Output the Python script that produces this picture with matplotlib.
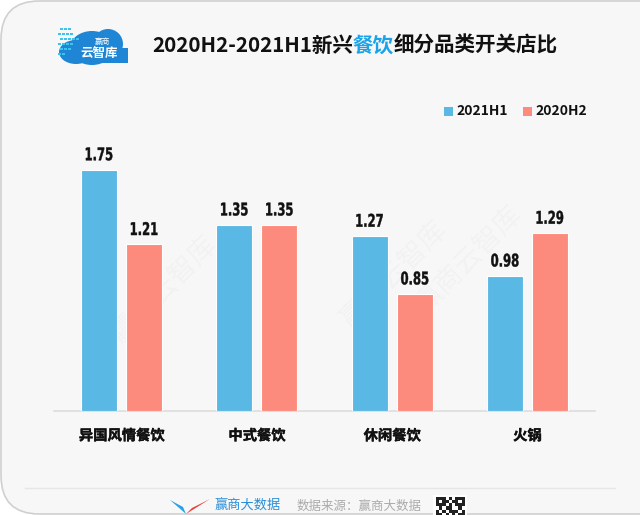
import matplotlib
matplotlib.use("Agg")
import matplotlib.pyplot as plt
import matplotlib.patheffects as pe
from matplotlib.patches import FancyBboxPatch, Rectangle, Polygon, Ellipse, PathPatch
from matplotlib.textpath import TextPath
from matplotlib.font_manager import FontProperties
from matplotlib.transforms import Affine2D
import numpy as np

categories = ["异国风情餐饮", "中式餐饮", "休闲餐饮", "火锅"]
series_names = ["2021H1", "2020H2"]
values_2021H1 = [1.75, 1.35, 1.27, 0.98]
values_2020H2 = [1.21, 1.35, 0.85, 1.29]
title_parts = ["2020H2-2021H1新兴", "餐饮", "细分品类开关店比"]

CJK = ["Noto Sans CJK SC", "DejaVu Sans"]
plt.rcParams['font.family'] = CJK

BLUE = "#5ab8e5"
RED = "#fc8b7d"
BG = "#f7f7f7"

W, H = 640, 515
DPI = 100
fig = plt.figure(figsize=(6.4, 5.15), dpi=DPI)
fig.patch.set_facecolor("white")

def fx(px):
    return px / W

def fy(py):
    return 1 - py / H

# frame
frame = FancyBboxPatch((fx(1), fy(514)), fx(690), fy(1) - fy(514),
                       boxstyle="round,pad=0,rounding_size=0.06",
                       transform=fig.transFigure, facecolor=BG,
                       edgecolor="#d0d0d0", linewidth=1.2, zorder=-5,
                       mutation_aspect=W / H)
fig.patches.append(frame)

# watermarks
for (wx, wy) in [(165, 290), (395, 275), (470, 260)]:
    fig.text(fx(wx), fy(wy), "赢商云智库", rotation=45, fontsize=20,
             color="#000000", alpha=0.025, ha="center", va="center", zorder=-1)

ax = fig.add_axes([fx(54), fy(411), fx(595) - fx(54), fy(150) - fy(411)])
ax.set_facecolor("none")
ax.set_zorder(2)

x = np.arange(len(categories))
bw = 36 / 135
off = 22.5 / 135
b1 = ax.bar(x - off, values_2021H1, bw, color=BLUE, edgecolor="white", linewidth=0.8, zorder=3)
b2 = ax.bar(x + off, values_2020H2, bw, color=RED, edgecolor="white", linewidth=0.8, zorder=3)

ax.set_xlim(-0.5, 3.5)
ax.set_ylim(0, 261 / 138)
for s in ["top", "right", "left"]:
    ax.spines[s].set_visible(False)
ax.spines["bottom"].set_color("#dddddd")
ax.spines["bottom"].set_linewidth(1.2)
ax.set_yticks([])
ax.set_xticks(x)
ax.set_xticklabels(categories, fontsize=10.3, fontweight="bold", color="#111111")
for lab in ax.get_xticklabels():
    lab.set_path_effects([pe.withStroke(linewidth=0.3, foreground="#111111")])
ax.tick_params(axis="x", length=0, pad=13)

# condensed value labels (text path squeezed horizontally)
lab_fp = FontProperties(family="DejaVu Sans", weight="bold")
for bars in (b1, b2):
    for b in bars:
        v = b.get_height()
        s = f"{v:.2f}"
        tp = TextPath((0, 0), s, size=17.5, prop=lab_fp)
        ext = tp.get_extents()
        sx = 0.66
        px, py = ax.transData.transform((b.get_x() + b.get_width() / 2, v))
        tr = (Affine2D().translate(-(ext.x0 + ext.width / 2), -ext.y0)
              .scale(sx, 1.0).translate(px, py + 9))
        fig.add_artist(PathPatch(tp, transform=tr, facecolor="#111111",
                                 edgecolor="#111111", linewidth=0.3, zorder=6))

# legend
fig.patches.append(Rectangle((fx(444), fy(115.5)), fx(9), fy(106.5) - fy(115.5),
                             transform=fig.transFigure, facecolor=BLUE, edgecolor="none"))
fig.text(fx(456), fy(111), series_names[0], fontsize=10, fontweight="bold",
         va="center", ha="left", color="#111111")
fig.patches.append(Rectangle((fx(523), fy(115.5)), fx(9), fy(106.5) - fy(115.5),
                             transform=fig.transFigure, facecolor=RED, edgecolor="none"))
fig.text(fx(535), fy(111), series_names[1], fontsize=10, fontweight="bold",
         va="center", ha="left", color="#111111")

# title with coloured segment
renderer = fig.canvas.get_renderer()
colors = ["#111111", "#1aa3e8", "#111111"]
cur = fx(152)
for part, c in zip(title_parts, colors):
    t = fig.text(cur, fy(45), part, fontsize=14.8, fontweight="bold", color=c,
                 va="center", ha="left")
    bb = t.get_window_extent(renderer=renderer)
    cur = cur + bb.width / fig.bbox.width

# logo (simplified cloud)
cloud_parts = [(92, 48, 44, 34), (108, 44, 30, 30), (76, 52, 34, 24)]
for cx, cy, ew, eh in cloud_parts:
    fig.patches.append(Ellipse((fx(cx), fy(cy)), fx(ew), fy(0) - fy(eh),
                               transform=fig.transFigure, facecolor="#1f86d6",
                               edgecolor="none", zorder=2))
fig.patches.append(Rectangle((fx(70), fy(63)), fx(58), fy(48) - fy(63),
                             transform=fig.transFigure, facecolor="#1f86d6",
                             edgecolor="none", zorder=2))
for i in range(6):
    for j in range(5 - abs(i - 2)):
        fig.patches.append(Rectangle((fx(60 + j * 4 - (i % 2) * 2), fy(30 + i * 5)),
                                     fx(2.5), fy(0) - fy(2.5),
                                     transform=fig.transFigure, facecolor="#3cc4ee",
                                     edgecolor="none", zorder=2))
fig.text(fx(102), fy(42), "赢商", fontsize=5.5, color="white", ha="center",
         va="center", zorder=3)
fig.text(fx(99), fy(53), "云智库", fontsize=9, color="white", ha="center",
         va="center", zorder=3, fontweight="bold")

# footer
fig.add_artist(plt.Line2D([fx(25), fx(615)], [fy(488), fy(488)],
                          transform=fig.transFigure, color="#e6e6e6", linewidth=1))
fig.patches.append(Polygon([(fx(170), fy(500)), (fx(186), fy(514)), (fx(183), fy(507))],
                           closed=True, transform=fig.transFigure, facecolor="#2aa3e6",
                           edgecolor="none"))
fig.patches.append(Polygon([(fx(186), fy(514)), (fx(210), fy(499)), (fx(192), fy(508))],
                           closed=True, transform=fig.transFigure, facecolor="#e8403a",
                           edgecolor="none"))
fig.text(fx(214), fy(506), "赢商大数据", fontsize=9.5, color="#2a8fd9",
         ha="left", va="center")
fig.text(fx(297), fy(506), "数据来源：赢商大数据", fontsize=9, color="#aaaaaa",
         ha="left", va="center")
fig.patches.append(Rectangle((fx(433), fy(515)), fx(34), fy(0) - fy(20),
                             transform=fig.transFigure, facecolor="white",
                             edgecolor="none"))
qr = [[1,1,1,0,1,0,1,1,1],[1,0,1,1,0,1,1,0,1],[1,1,1,0,1,0,1,1,1],
      [0,1,0,1,1,0,0,1,0],[1,0,1,0,1,1,1,0,1],[1,1,0,1,0,1,0,1,1]]
for r, row in enumerate(qr):
    for c, v in enumerate(row):
        if v:
            fig.patches.append(Rectangle((fx(436 + c * 3.2), fy(500 + r * 3.2)),
                                         fx(3.2), fy(0) - fy(3.2),
                                         transform=fig.transFigure,
                                         facecolor="#222222", edgecolor="none"))

fig.savefig("out.png", dpi=DPI, facecolor=fig.get_facecolor())
